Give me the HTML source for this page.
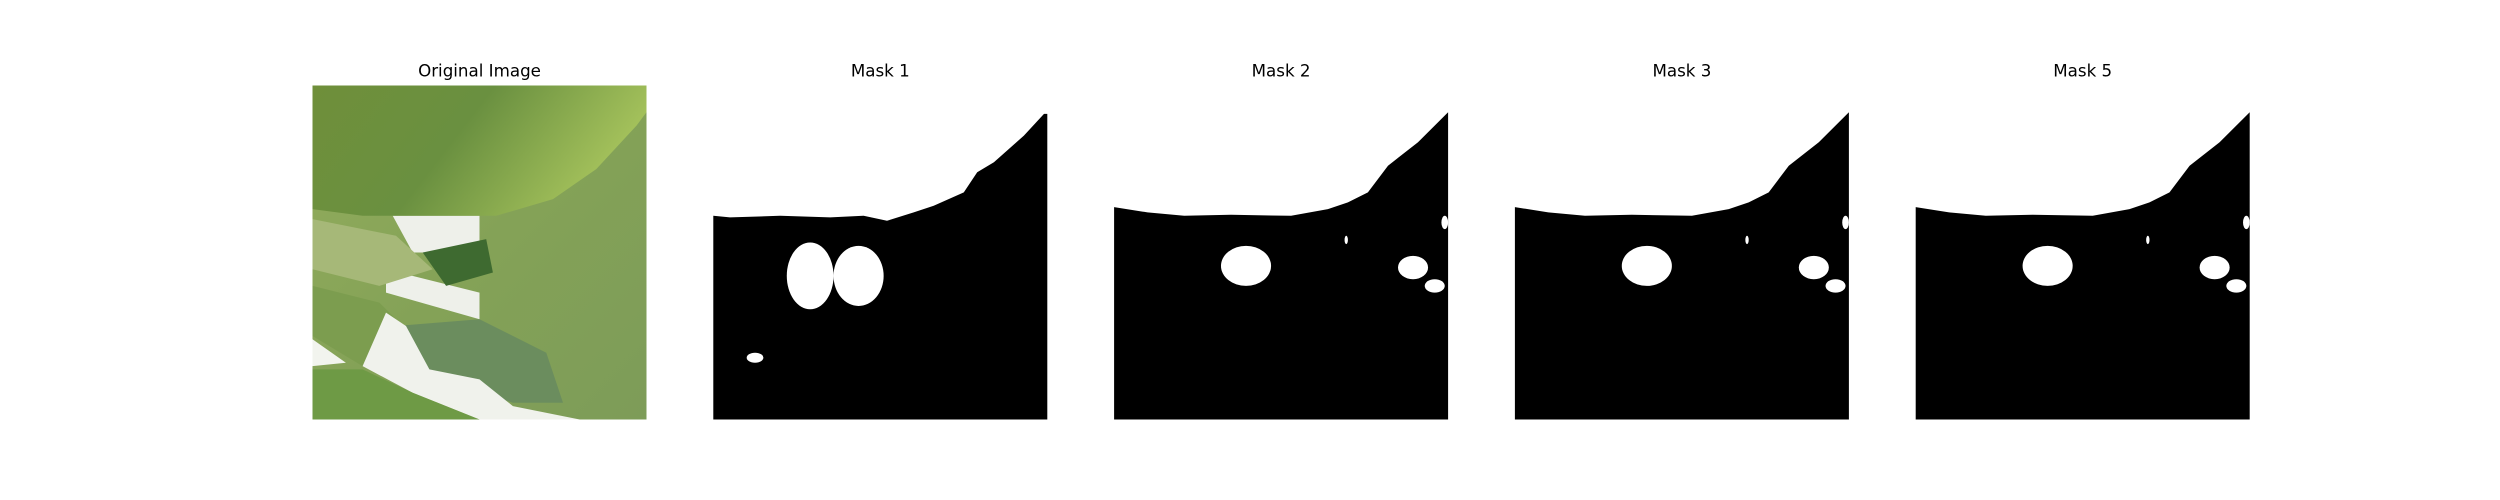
<!DOCTYPE html>
<html><head><meta charset="utf-8"><style>
html,body{margin:0;padding:0;background:#fff;}
svg{display:block;font-family:"DejaVu Sans","Liberation Sans",sans-serif;}
</style></head><body>
<svg id="fig" width="2500" height="500" viewBox="0 0 2500 500" xmlns="http://www.w3.org/2000/svg">
<rect width="2500" height="500" fill="#fff"/>
<defs>
<linearGradient id="leafTop" x1="0" y1="0" x2="1" y2="0.3">
<stop offset="0" stop-color="#6f8f3a"/><stop offset="0.5" stop-color="#6a9040"/><stop offset="1" stop-color="#a6c35c"/>
</linearGradient>
<linearGradient id="leafLow" x1="0" y1="0" x2="1" y2="1">
<stop offset="0" stop-color="#93ad5c"/><stop offset="0.5" stop-color="#84a257"/><stop offset="1" stop-color="#7d9c58"/>
</linearGradient>
</defs>
<g id="panels"></g>
</svg>
<script>
const titles = ["Original Image","Mask 1","Mask 2","Mask 3","Mask 5"];
const axLeft = [312.5, 713.3, 1114.1, 1514.9, 1915.7];
const axTop = 85.5, axSize = 334;
// mask boundaries (normalized x, y from top)
const boundary1 = [[0,0.39],[0.05,0.395],[0.2,0.39],[0.35,0.395],[0.45,0.39],[0.52,0.405],[0.6,0.38],[0.66,0.36],[0.75,0.32],[0.79,0.26],[0.84,0.23],[0.93,0.15],[0.99,0.085],[1,0.085]];
const boundary2 = [[0,0.364],[0.1,0.38],[0.21,0.39],[0.35,0.387],[0.53,0.39],[0.64,0.37],[0.7,0.35],[0.76,0.32],[0.82,0.24],[0.91,0.17],[1,0.08]];
const blobs1 = [[0.22,0.47,0.14,0.2],[0.36,0.48,0.15,0.18],[0.10,0.80,0.05,0.03]];
const blobs2 = [[0.32,0.48,0.15,0.12],[0.85,0.51,0.09,0.07],[0.93,0.58,0.06,0.04],[0.98,0.39,0.02,0.04],[0.69,0.45,0.01,0.025]];
const NS = "http://www.w3.org/2000/svg";
const root = document.getElementById("panels");
function mk(tag, attrs, parent){const e=document.createElementNS(NS,tag);for(const k in attrs)e.setAttribute(k,attrs[k]);parent.appendChild(e);return e;}
function pathFrom(pts){return "M"+pts.map(p=>(p[0]*axSize).toFixed(1)+","+(p[1]*axSize).toFixed(1)).join("L");}
titles.forEach((t,i)=>{
  const g = mk("g",{transform:`translate(${axLeft[i]},${axTop})`},root);
  
  
  const txt = mk("text",{x:axSize/2,y:-9,"text-anchor":"middle","font-size":"16.7",fill:"#000"},g);
  txt.textContent = t;
  
  
  if(i===0){
    mk("rect",{x:0,y:0,width:axSize,height:axSize,fill:"url(#leafLow)"},g);
    const P=(a)=>pathFrom(a)+"Z";
    mk("path",{d:P([[0,0.6],[0.2,0.65],[0.3,0.75],[0.15,0.84],[0,0.75]]),fill:"#7c9d4f"},g);
    mk("path",{d:P([[0.24,0.39],[0.5,0.39],[0.5,0.5],[0.3,0.5]]),fill:"#eef0ea"},g);
    mk("path",{d:P([[0.22,0.55],[0.5,0.62],[0.5,0.7],[0.22,0.62]]),fill:"#eef0ea"},g);
    mk("path",{d:P([[0.33,0.5],[0.52,0.46],[0.54,0.56],[0.4,0.6]]),fill:"#3e6a30"},g);
    mk("path",{d:P([[0,0.4],[0.25,0.45],[0.36,0.55],[0.2,0.6],[0,0.55]]),fill:"#a6b878"},g);
    mk("path",{d:P([[0.25,0.72],[0.5,0.7],[0.7,0.8],[0.75,0.95],[0.6,0.95],[0.3,0.85]]),fill:"#6b8d5e"},g);
    mk("path",{d:P([[0,0.76],[0.1,0.83],[0,0.84]]),fill:"#f2f4ee"},g);
    mk("path",{d:P([[0.15,0.84],[0.22,0.68],[0.28,0.72],[0.35,0.85],[0.5,0.88],[0.6,0.96],[0.8,1],[0.5,1],[0.3,0.92]]),fill:"#f0f2ec"},g);
    mk("path",{d:P([[0,0.85],[0.15,0.85],[0.3,0.92],[0.5,1],[0,1]]),fill:"#6e9a45"},g);
    mk("path",{d:P([[0,0],[1,0],[1,0.08],[0.97,0.12],[0.85,0.25],[0.72,0.34],[0.55,0.39],[0.15,0.39],[0,0.37]]),fill:"url(#leafTop)"},g);
    mk("rect",{x:0,y:0,width:axSize,height:axSize,fill:"none"},g);
  } else {
    const b = i===1?boundary1:boundary2;
    const bl = i===1?blobs1:blobs2;
    mk("rect",{x:0,y:0,width:axSize,height:axSize,fill:"#fff"},g);
    const poly = mk("path",{d:pathFrom(b.concat([[1,1],[0,1]]))+"Z",fill:"#000"},g);
    
    
    bl.forEach(o=>{
      const e = mk("ellipse",{cx:(o[0]+o[2]/2)*axSize,cy:(o[1]+o[3]/2)*axSize,rx:o[2]/2*axSize,ry:o[3]/2*axSize,fill:"#fff"},g);
      
      
    });
  }
});
</script>
</body></html>
